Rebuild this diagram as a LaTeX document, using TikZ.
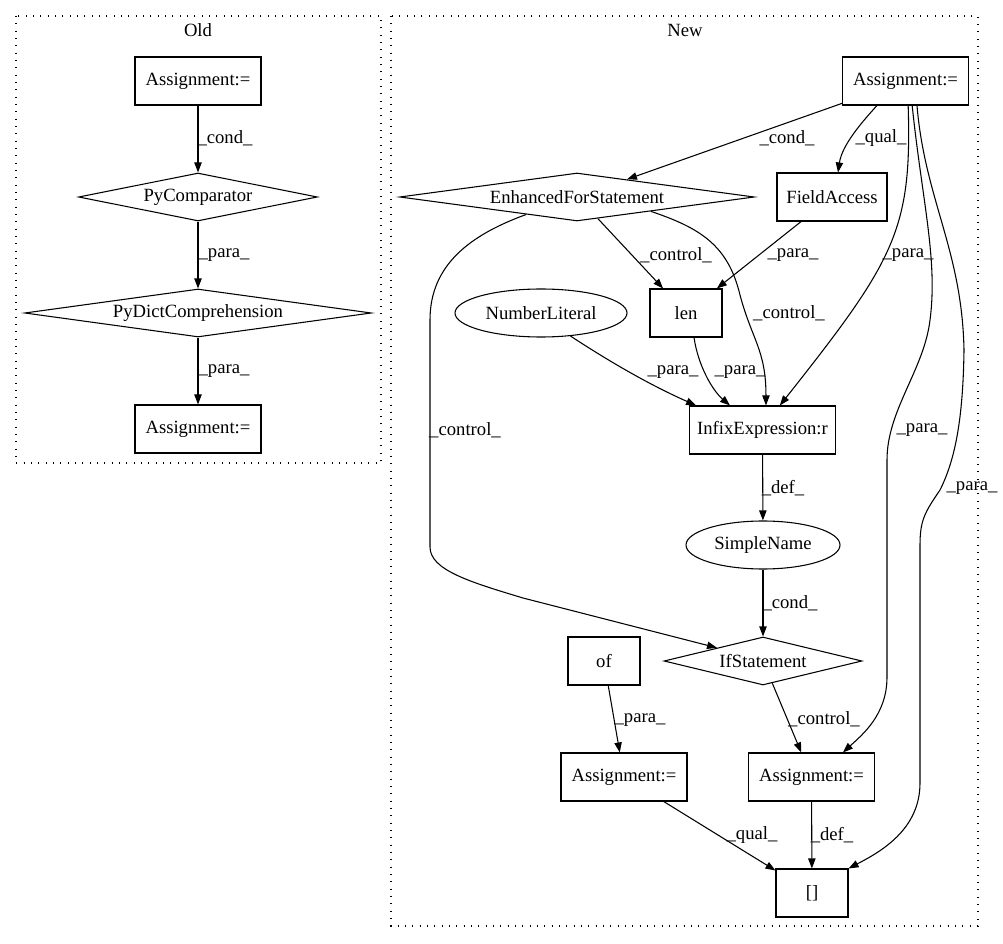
\documentclass[tikz,border=0pt]{standalone}
\usepackage{fontspec}
\setmainfont{Liberation Serif}
\usetikzlibrary{shapes.geometric, arrows.meta, positioning}

\begin{document}
\begin{tikzpicture}[x=0.75pt, y=-0.75pt, node distance=87pt,
  every node/.style={font=\fontsize{14}{16}\selectfont},
  box/.style={rectangle, draw, line width=0.8pt, inner xsep=3pt, minimum width=54pt, minimum height=36pt},
  choice/.style={diamond, draw, line width=0.8pt, aspect=6, inner sep=0pt, minimum height=36pt},
  oval/.style={ellipse, draw, line width=0.8pt, inner sep=0pt, minimum height=36pt},
  arr/.style={-{Triangle[length=7.5pt,width=5.5pt]}, line width=0.8pt},
  lbl/.style={inner sep=0pt},
  cluster/.style={line width=0.8pt, dash pattern=on 0.8pt off 4.7pt}]
\useasboundingbox (0,0) rectangle (1003,944);

% clusters
\draw[cluster] (16,16) rectangle (381,463);
\node (oldtitle) at (198,30) {Old};
\draw[cluster] (391,16) rectangle (978,926);
\node (newtitle) at (685,30) {New};

% old version
\node[box, minimum width=94.5pt] (oa1) at (198,81) {Assignment:=};
\node[choice, minimum width=179pt, below of=oa1] (pycmp) {PyComparator};
\node[choice, minimum width=260pt, below of=pycmp] (pydict) {PyDictComprehension};
\node[box, minimum width=94.5pt, below of=pydict] (oa2) {Assignment:=};

\draw[arr] (oa1) -- (pycmp);
\node[lbl] (l1) at (225,138) {\_cond\_};
\draw[arr] (pycmp) -- (pydict);
\node[lbl] (l2) at (224,255) {\_para\_};
\draw[arr] (pydict) -- (oa2);
\node[lbl] (l3) at (224,371) {\_para\_};

% new version
\node[box, minimum width=94.5pt] (na1) at (905.5,81) {Assignment:=};
\node[choice, minimum width=266pt] (efs) at (577,197) {EnhancedForStatement};
\node[box, minimum width=82.5pt] (fa) at (832,197) {FieldAccess};
\node[oval, minimum width=129pt] (nl) at (541,313) {NumberLiteral};
\node[box] (len) at (686,313) {len};
\node[box, minimum width=110pt] (infix) at (762.5,430) {InfixExpression:r};
\node[oval, minimum width=115.5pt] (sn) at (763,545) {SimpleName};
\node[box] (ofcall) at (604,661) {of};
\node[choice, minimum width=148.5pt] (ifst) at (763,661) {IfStatement};
\node[box, minimum width=94.5pt] (na2) at (624,777) {Assignment:=};
\node[box, minimum width=94.5pt] (na3) at (811.5,777) {Assignment:=};
\node[box] (brk) at (812,893) {[]};

\draw[arr] (na1) -- (efs);
\node[lbl] (l4) at (787,138) {\_cond\_};
\draw[arr] ([xshift=-21.4pt]na1.south) .. controls (862,122) and (842,145) .. ([xshift=4.5pt]fa.north);
\node[lbl] (l5) at (881,138) {\_qual\_};
\draw[arr] ([xshift=2pt]na1.south) .. controls (912,230) and (895,260) .. ([xshift=13pt]infix.north);
\node[lbl] (l6) at (908,255) {\_para\_};
\draw[arr] ([xshift=5pt]na1.south) .. controls (922,200) and (938,260) .. (930,320)
  .. controls (924,370) and (887,410) .. (887,460) -- (887,677)
  .. controls (887,715) and (862,735) .. ([xshift=23.6pt]na3.north);
\node[lbl] (l7) at (922,430) {\_para\_};
\draw[arr] ([xshift=8.6pt]na1.south) .. controls (925,200) and (962,250) .. (964,350)
  .. controls (963,420) and (955,460) .. (940,490) .. controls (925,512) and (920,520) .. (920,545)
  -- (920,783) .. controls (920,830) and (880,852) .. (brk.north east);
\node[lbl] (l8) at (972,488) {\_para\_};

\draw[arr] (efs.-46) -- (len);
\node[lbl] (l9) at (676,255) {\_control\_};
\draw[arr] (efs.-11) .. controls (700,228) and (728,245) .. (740,295)
  .. controls (752,340) and (766,350) .. ([xshift=2.6pt]infix.north);
\node[lbl] (l10) at (789,313) {\_control\_};
\draw[arr] (efs.-161) .. controls (470,235) and (430,265) .. (430,320) -- (430,547)
  .. controls (430,570) and (470,582) .. (523,598) -- (ifst.164);
\node[lbl] (l11) at (465,430) {\_control\_};
\draw[arr] (fa) -- (len);
\node[lbl] (l12) at (793,255) {\_para\_};

\draw[arr] (nl.-38) .. controls (610,362) and (650,385) .. ([xshift=5.6pt]infix.north west);
\node[lbl] (l13) at (673,372) {\_para\_};
\draw[arr] ([xshift=6pt]len.south) .. controls (698,365) and (712,390) .. ([xshift=-24.4pt]infix.north);
\node[lbl] (l14) at (740,372) {\_para\_};

\draw[arr] (infix) -- (sn);
\node[lbl] (l15) at (783,488) {\_def\_};
\draw[arr] (sn) -- (ifst);
\node[lbl] (l16) at (790,603) {\_cond\_};
\draw[arr] (ifst) -- (na3);
\node[lbl] (l17) at (824,719) {\_control\_};
\draw[arr] (ofcall) -- (na2);
\node[lbl] (l18) at (640,720) {\_para\_};
\draw[arr] (na2) -- (brk);
\node[lbl] (l19) at (752,835) {\_qual\_};
\draw[arr] (na3) -- (brk);
\node[lbl] (l20) at (832,835) {\_def\_};
\end{tikzpicture}
\end{document}
